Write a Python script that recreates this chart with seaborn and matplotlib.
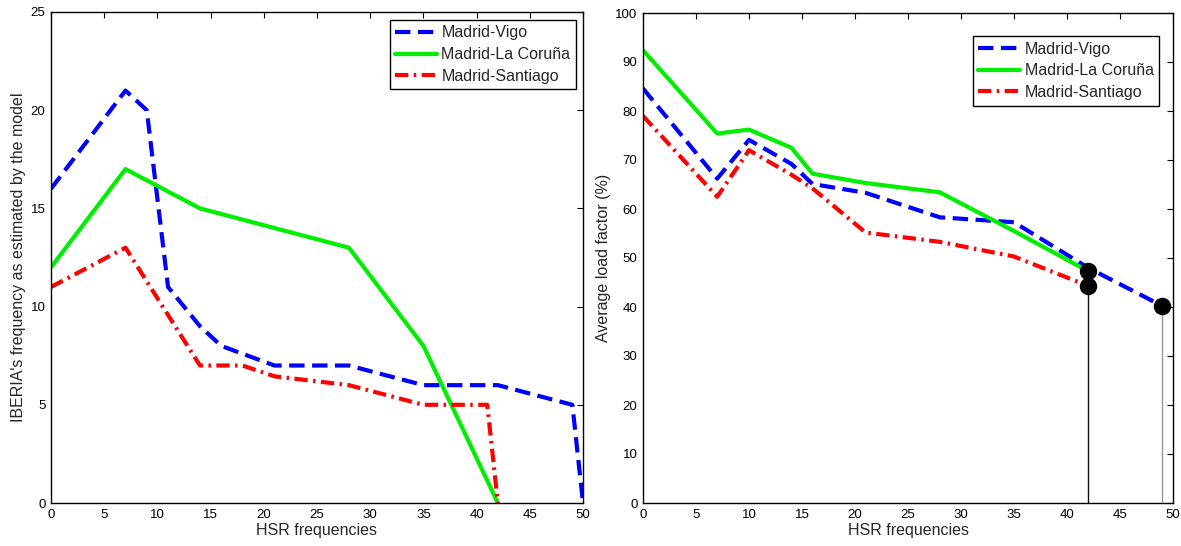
import matplotlib
matplotlib.use("Agg")
import matplotlib.pyplot as plt
import seaborn as sns
import pandas as pd

# ---------------- data ----------------
routes = ["Madrid-Vigo", "Madrid-La Coruña", "Madrid-Santiago"]

# Left panel: IBERIA's frequency
vigo_freq_x = [0, 7, 9, 11, 14, 16, 21, 28, 35, 42, 49, 50]
vigo_freq_y = [16, 21, 20, 11, 9, 8, 7, 7, 6, 6, 5, 0]
coruna_freq_x = [0, 7, 14, 28, 35, 42]
coruna_freq_y = [12, 17, 15, 13, 8, 0]
santiago_freq_x = [0, 7, 14, 18, 21, 28, 35, 41, 42]
santiago_freq_y = [11, 13, 7, 7, 6.45, 6, 5, 5, 0]

# Right panel: average load factor (%)
vigo_lf_x = [0, 7, 10, 14, 16, 21, 28, 35, 42, 49]
vigo_lf_y = [84.6, 66.2, 74.1, 69.2, 65.1, 63.3, 58.3, 57.3, 48.0, 40.2]
coruna_lf_x = [0, 7, 10, 14, 16, 21, 28, 35, 42]
coruna_lf_y = [92.4, 75.4, 76.2, 72.5, 67.2, 65.3, 63.4, 55.5, 47.3]
santiago_lf_x = [0, 7, 10, 14, 16, 21, 28, 35, 42]
santiago_lf_y = [79.0, 62.5, 72.0, 67.0, 64.2, 55.2, 53.3, 50.3, 44.3]

# end points (markers) and drop lines
end_x = [42, 42, 49]
end_y = [47.3, 44.3, 40.2]
drop_x = [42, 49]
drop_y = [44.3, 40.2]
drop_colors = ["#111111", "#999999"]

x_ticks = list(range(0, 51, 5))
left_yticks = list(range(0, 26, 5))
right_yticks = list(range(0, 101, 10))

# ---------------- style ----------------
sns.set_style("white")
plt.rcParams["font.family"] = ["Liberation Sans", "DejaVu Sans"]

colors = {"Madrid-Vigo": "#0000FF", "Madrid-La Coruña": "#00EE00", "Madrid-Santiago": "#FF0000"}
styles = {"Madrid-Vigo": (0, (3.7, 1.8)),
          "Madrid-La Coruña": "-",
          "Madrid-Santiago": (0, (3.2, 1.3, 0.6, 1.3))}
LW = 3.0

fig = plt.figure(figsize=(11.81, 5.46), dpi=100)
ax1 = fig.add_axes([51 / 1181, 43 / 546, 532 / 1181, 491 / 546])
ax2 = fig.add_axes([643 / 1181, 43 / 546, 530 / 1181, 490 / 546])


def draw(ax, series):
    for name, xs, ys in series:
        df = pd.DataFrame({"x": xs, "y": ys})
        sns.lineplot(data=df, x="x", y="y", ax=ax, color=colors[name],
                     linestyle=styles[name], lw=LW, label=name,
                     sort=False, estimator=None, dash_capstyle="butt")


draw(ax1, [("Madrid-Vigo", vigo_freq_x, vigo_freq_y),
           ("Madrid-La Coruña", coruna_freq_x, coruna_freq_y),
           ("Madrid-Santiago", santiago_freq_x, santiago_freq_y)])
draw(ax2, [("Madrid-Vigo", vigo_lf_x, vigo_lf_y),
           ("Madrid-La Coruña", coruna_lf_x, coruna_lf_y),
           ("Madrid-Santiago", santiago_lf_x, santiago_lf_y)])

# drop lines and end markers on the right panel
for dx, dy, c in zip(drop_x, drop_y, drop_colors):
    ax2.vlines(dx, 0, dy, color=c, lw=1.0, zorder=4)
sns.scatterplot(x=end_x, y=end_y, ax=ax2, color="black", s=135,
                edgecolor="black", zorder=5, legend=False)

for ax, yt, ylab in [(ax1, left_yticks, "IBERIA's frequency as estimated by the model"),
                     (ax2, right_yticks, "Average load factor (%)")]:
    ax.set_xlim(0, 50)
    ax.set_ylim(yt[0], yt[-1])
    ax.set_xticks(x_ticks)
    ax.set_yticks(yt)
    ax.set_xlabel("HSR frequencies", fontsize=11.5, labelpad=2)
    ax.set_ylabel(ylab, fontsize=11.5, labelpad=3)
    ax.tick_params(direction="in", length=4, width=0.8, top=True, right=True,
                   labelsize=9.5, colors="black", pad=4)
    for sp in ax.spines.values():
        sp.set_visible(True)
        sp.set_color("black")
        sp.set_linewidth(1.0)

leg_kw = dict(loc="upper right", fontsize=11.5, frameon=True, fancybox=False,
              edgecolor="black", framealpha=1, borderaxespad=0,
              handlelength=2.6, handletextpad=0.3, labelspacing=0.42,
              borderpad=0.35)
l1 = ax1.legend(bbox_to_anchor=(0.987, 0.984), **leg_kw)
l2 = ax2.legend(bbox_to_anchor=(0.974, 0.953), **leg_kw)
for l in (l1, l2):
    l.get_frame().set_linewidth(1.0)

fig.savefig("out.png", dpi=100)
